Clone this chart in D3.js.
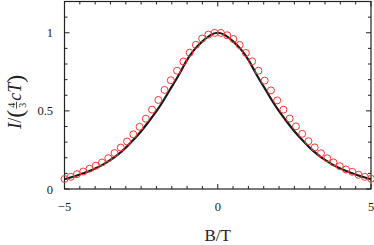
<!DOCTYPE html>
<html>
<head>
<meta charset="utf-8">
<script src="https://cdn.jsdelivr.net/npm/d3@7"></script>
<style>
  html, body { margin: 0; padding: 0; background: #fff; }
  svg { display: block; }
  text { font-family: "Liberation Serif", "DejaVu Serif", serif; fill: #222; }
</style>
</head>
<body>
<div id="chart"></div>
<script>
(function() {
var WIDTH = 374;
var HEIGHT = 245;

// measured points (open circles)
var pointB = [-5, -4.796, -4.592, -4.388, -4.184, -3.980, -3.776, -3.571, -3.367, -3.163,
  -2.959, -2.755, -2.551, -2.347, -2.143, -1.939, -1.735, -1.531, -1.327, -1.122,
  -0.918, -0.714, -0.510, -0.306, -0.102,
  0.102, 0.306, 0.510, 0.714, 0.918, 1.122, 1.327, 1.531, 1.735, 1.939,
  2.143, 2.347, 2.551, 2.755, 2.959, 3.163, 3.367, 3.571, 3.776, 3.980,
  4.184, 4.388, 4.592, 4.796, 5];
var pointI = [0.064, 0.078, 0.095, 0.112, 0.130, 0.149, 0.170, 0.197, 0.230, 0.265,
  0.304, 0.350, 0.398, 0.450, 0.508, 0.570, 0.634, 0.696, 0.757, 0.816,
  0.872, 0.923, 0.963, 0.988, 0.999,
  0.999, 0.984, 0.960, 0.922, 0.871, 0.817, 0.757, 0.694, 0.631, 0.567,
  0.508, 0.451, 0.401, 0.353, 0.306, 0.266, 0.229, 0.197, 0.170, 0.146,
  0.125, 0.110, 0.091, 0.078, 0.066];

// theory curve (solid black)
var curveB = [-5, -4.75, -4.5, -4.25, -4, -3.75, -3.5, -3.25, -3, -2.75, -2.5, -2.25, -2,
  -1.75, -1.5, -1.25, -1, -0.75, -0.5, -0.25, 0, 0.25, 0.5, 0.75, 1, 1.25, 1.5, 1.75,
  2, 2.25, 2.5, 2.75, 3, 3.25, 3.5, 3.75, 4, 4.25, 4.5, 4.75, 5];
var curveI = [0.062, 0.077, 0.093, 0.111, 0.131, 0.156, 0.186, 0.222, 0.265, 0.315, 0.370, 0.432, 0.498,
  0.573, 0.655, 0.738, 0.826, 0.895, 0.945, 0.983, 1.0, 0.983, 0.945, 0.895, 0.826, 0.738, 0.655, 0.573,
  0.498, 0.432, 0.370, 0.315, 0.265, 0.222, 0.186, 0.156, 0.131, 0.111, 0.093, 0.077, 0.062];

var xMajor = [-5, 0, 5];
var xMinor = [-4.5, -4, -3.5, -3, -2.5, -2, -1.5, -1, -0.5, 0.5, 1, 1.5, 2, 2.5, 3, 3.5, 4, 4.5];
var yMajor = [0, 0.5, 1];
var yMinor = [0.1, 0.2, 0.3, 0.4, 0.6, 0.7, 0.8, 0.9, 1.1];

var left = 64.5, right = 371, top = 1.5, bottom = 189;

var x = d3.scaleLinear().domain([-5, 5]).range([left, right]);
var y = d3.scaleLinear().domain([0, 1.2]).range([bottom, top]);

var svg = d3.select('#chart').append('svg')
  .attr('width', WIDTH)
  .attr('height', HEIGHT);

var fmt = function(d) { return d < 0 ? '\u2212' + Math.abs(d) : String(d); };

// ticks on all four sides, pointing inward
function xTicks(g, vals, len) {
  g.selectAll(null).data(vals).enter().append('line')
    .attr('x1', x).attr('x2', x)
    .attr('y1', bottom).attr('y2', bottom - len)
    .attr('stroke', '#222');
  g.selectAll(null).data(vals).enter().append('line')
    .attr('x1', x).attr('x2', x)
    .attr('y1', top).attr('y2', top + len)
    .attr('stroke', '#222');
}
function yTicks(g, vals, len) {
  g.selectAll(null).data(vals).enter().append('line')
    .attr('y1', y).attr('y2', y)
    .attr('x1', left).attr('x2', left + len)
    .attr('stroke', '#222');
  g.selectAll(null).data(vals).enter().append('line')
    .attr('y1', y).attr('y2', y)
    .attr('x1', right).attr('x2', right - len)
    .attr('stroke', '#222');
}
var ticks = svg.append('g');
xTicks(ticks, xMajor, 5);
xTicks(ticks, xMinor, 3);
yTicks(ticks, yMajor, 5);
yTicks(ticks, yMinor, 3);

svg.append('rect')
  .attr('x', left).attr('y', top)
  .attr('width', right - left).attr('height', bottom - top)
  .attr('fill', 'none').attr('stroke', '#222').attr('stroke-width', 1.2);

svg.append('g').selectAll('text').data(xMajor).enter().append('text')
  .attr('x', x).attr('y', 211)
  .attr('text-anchor', 'middle')
  .attr('font-size', 12.5)
  .text(fmt);

svg.append('g').selectAll('text').data(yMajor).enter().append('text')
  .attr('x', 53).attr('y', function(d) { return y(d) + 4.5; })
  .attr('text-anchor', 'end')
  .attr('font-size', 12.5)
  .text(fmt);

// theory line
var line = d3.line()
  .x(function(d, i) { return x(curveB[i]); })
  .y(function(d) { return y(d); })
  .curve(d3.curveNatural);
svg.append('path')
  .datum(curveI)
  .attr('d', line)
  .attr('fill', 'none')
  .attr('stroke', '#1a1a1a')
  .attr('stroke-width', 2.2);

// data points
svg.append('g').selectAll('circle').data(pointI).enter().append('circle')
  .attr('cx', function(d, i) { return x(pointB[i]); })
  .attr('cy', function(d) { return y(d); })
  .attr('r', 3.5)
  .attr('fill', 'none')
  .attr('stroke', '#ff3333')
  .attr('stroke-width', 1);

// x label
svg.append('text')
  .attr('x', x(0)).attr('y', 241)
  .attr('text-anchor', 'middle')
  .attr('font-size', 17)
  .text('B/T');

// y label: I/(4/3 cT), built piece by piece and rotated
var yl = svg.append('g').attr('transform', 'translate(21,95) rotate(-90)');
var pos = -34;
function piece(str, size, italic, dy) {
  var t = yl.append('text')
    .attr('x', pos).attr('y', dy || 0)
    .attr('font-size', size)
    .attr('font-style', italic ? 'italic' : 'normal')
    .text(str);
  pos += t.node().getComputedTextLength();
  return t;
}
piece('I', 19, true);
piece('/', 18, false);
piece('(', 24, false, 2);
pos += 1;
var fx = pos;
yl.append('text').attr('x', fx + 3.5).attr('y', -6).attr('font-size', 10)
  .attr('text-anchor', 'middle').text('4');
yl.append('text').attr('x', fx + 3.5).attr('y', 4.5).attr('font-size', 10)
  .attr('text-anchor', 'middle').text('3');
yl.append('line').attr('x1', fx).attr('x2', fx + 7)
  .attr('y1', -4.5).attr('y2', -4.5)
  .attr('stroke', '#222').attr('stroke-width', 0.8);
pos += 8;
piece('cT', 18, true);
piece(')', 24, false, 2);
})();
</script>
</body>
</html>
